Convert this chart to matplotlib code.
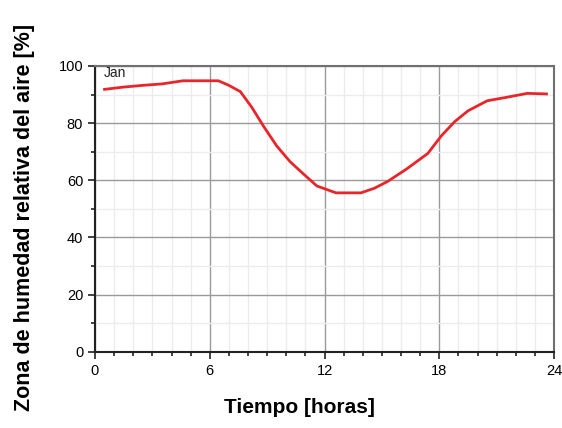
import matplotlib
matplotlib.use("Agg")
from matplotlib import pyplot as plt
from matplotlib.ticker import MultipleLocator

plt.rcParams['font.family'] = ['Liberation Sans', 'DejaVu Sans']

# hours of the day and relative humidity (%) for January
hours = [0.5, 1.5, 2.5, 3.5, 4.6, 5.5, 6.45, 7.0, 7.6, 8.2, 8.8, 9.5, 10.2,
         10.75, 11.6, 12.6, 13.9, 14.6, 15.3, 16.3, 17.4, 18.1, 18.8, 19.5,
         20.5, 21.5, 22.6, 23.6]
humidity = [91.8, 92.6, 93.2, 93.7, 94.8, 94.8, 94.8, 93.2, 91.0, 85.5, 79.0,
            72.0, 66.5, 63.1, 58.0, 55.6, 55.6, 57.2, 59.6, 64.0, 69.4, 75.5,
            80.5, 84.3, 87.8, 89.0, 90.4, 90.2]
series_name = "Jan"

fig = plt.figure(figsize=(5.62, 4.28), dpi=100)
ax = fig.add_axes([0.169, 0.178, 0.817, 0.668])

ax.plot(hours, humidity, color="#e8262a", linewidth=2.0, zorder=3)
ax.text(0.45, 97.5, series_name, fontsize=10, color="#222222", va="center")

ax.set_xlim(0, 24)
ax.set_ylim(0, 100)
ax.xaxis.set_major_locator(MultipleLocator(6))
ax.xaxis.set_minor_locator(MultipleLocator(1))
ax.yaxis.set_major_locator(MultipleLocator(20))
ax.yaxis.set_minor_locator(MultipleLocator(10))

ax.grid(which="major", color="#9a9a9a", linewidth=1.0)
ax.grid(which="minor", color="#ececec", linewidth=1.0)
ax.set_axisbelow(True)

for side in ["left", "bottom"]:
    ax.spines[side].set_color("#222222")
    ax.spines[side].set_linewidth(1.5)
for side in ["top", "right"]:
    ax.spines[side].set_color("#707070")
    ax.spines[side].set_linewidth(1.5)

ax.tick_params(which="major", length=5, width=1.2, labelsize=10.5, color="#222222")
ax.tick_params(which="minor", length=3, width=1.2, color="#222222")

ax.set_xlabel("Tiempo [horas]", fontsize=15, fontweight="bold", labelpad=16)
ax.set_ylabel("Zona de humedad relativa del aire [%]", fontsize=15.5,
              fontweight="bold", labelpad=16)
ax.xaxis.set_label_coords(0.446, -0.16)
ax.yaxis.set_label_coords(-0.13, 0.47)

fig.savefig("out.png", dpi=100)
